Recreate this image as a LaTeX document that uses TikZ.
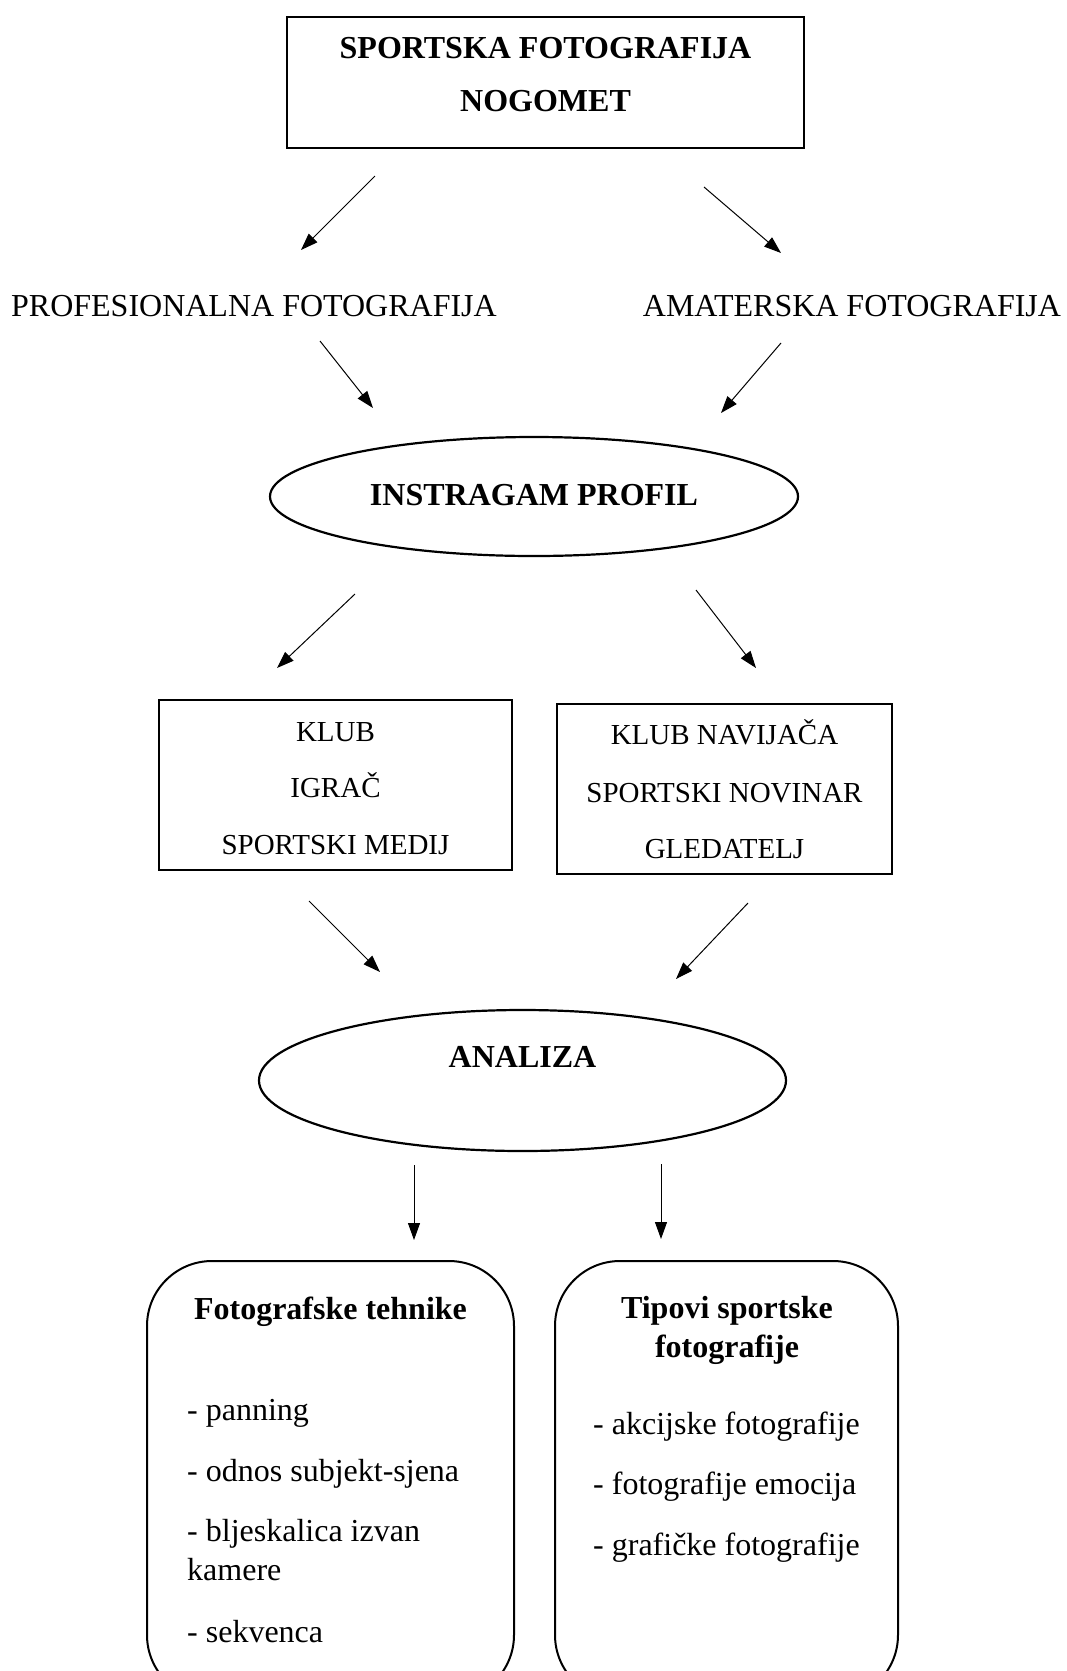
\documentclass[tikz,border=0pt]{standalone}
\usepackage{fontspec}
\setmainfont{Liberation Serif}
\usetikzlibrary{shapes.geometric,arrows.meta}
\begin{document}
\begin{tikzpicture}[x=1pt,y=-1pt,
  lbl/.style={anchor=base, inner sep=0, font=\fontsize{32}{38}\selectfont},
  blbl/.style={anchor=base, inner sep=0, font=\fontsize{32}{38}\selectfont\bfseries},
  slbl/.style={anchor=base, inner sep=0, font=\fontsize{29}{35}\selectfont},
  itm/.style={anchor=base west, inner sep=0, font=\fontsize{32}{38}\selectfont},
  box/.style={draw, line width=2pt, inner sep=0, rectangle},
  oval/.style={draw, ellipse, line width=2.2pt, inner sep=0},
  arr/.style={line width=1pt, -{Triangle[length=17pt,width=12pt]}},
  rbox/.style={draw, line width=2pt, rounded corners=65pt}]
\path[use as bounding box, fill=white] (0,0) rectangle (1067,1671);

% top box
\node[box, minimum width=517pt, minimum height=131pt] (top) at (545.5,82.5) {};
\node[blbl] (t1) at (545.5,58) {SPORTSKA FOTOGRAFIJA};
\node[blbl] (t2) at (545.5,111) {NOGOMET};

% second level labels
\node[lbl] (prof) at (254,316) {PROFESIONALNA FOTOGRAFIJA};
\node[lbl] (amat) at (852,316) {AMATERSKA FOTOGRAFIJA};

% instagram ellipse
\node[oval, minimum width=528pt, minimum height=119pt] (insta) at (534,496.5) {};
\node[blbl] (instat) at (534,505) {INSTRAGAM PROFIL};

% middle boxes
\node[box, minimum width=353pt, minimum height=170pt] (klub) at (335.5,785) {};
\node[slbl] (k1) at (335.5,741) {KLUB};
\node[slbl] (k2) at (335.5,797) {IGRAČ};
\node[slbl] (k3) at (335.5,854) {SPORTSKI MEDIJ};

\node[box, minimum width=335pt, minimum height=170pt] (nav) at (724.5,789) {};
\node[slbl] (n1) at (724.5,744) {KLUB NAVIJAČA};
\node[slbl] (n2) at (724.5,802) {SPORTSKI NOVINAR};
\node[slbl] (n3) at (724.5,858) {GLEDATELJ};

% analiza ellipse
\node[oval, minimum width=527pt, minimum height=141pt] (anal) at (522.5,1080.5) {};
\node[blbl] (analt) at (522.5,1067) {ANALIZA};

% bottom rounded boxes
\begin{scope}
\clip (0,0) rectangle (1067,1671);
\draw[rbox] (147,1700) rectangle (514,1261);
\draw[rbox] (555,1700) rectangle (898,1261);
\end{scope}
\coordinate (lbox) at (330.5,1261);
\coordinate (rbox) at (726.5,1261);

\node[blbl] (fh) at (330.5,1319) {Fotografske tehnike};
\node[itm] (f1) at (187,1420) {- panning};
\node[itm] (f2) at (187,1481) {- odnos subjekt-sjena};
\node[itm] (f3) at (187,1541) {- bljeskalica izvan};
\node[itm] (f4) at (187,1580) {kamere};
\node[itm] (f5) at (187,1642) {- sekvenca};

\node[blbl] (th1) at (727,1318) {Tipovi sportske};
\node[blbl] (th2) at (727,1357) {fotografije};
\node[itm] (g1) at (593,1434) {- akcijske fotografije};
\node[itm] (g2) at (593,1494) {- fotografije emocija};
\node[itm] (g3) at (593,1555) {- grafičke fotografije};

% arrow end points
\coordinate (a1s) at (375,176);  \coordinate (a1e) at (301,250);
\coordinate (a2s) at (704,187);  \coordinate (a2e) at (781,253);
\coordinate (a3s) at (320,341);  \coordinate (a3e) at (373,408);
\coordinate (a4s) at (781,343);  \coordinate (a4e) at (721,413);
\coordinate (a5s) at (355,594);  \coordinate (a5e) at (277,668);
\coordinate (a6s) at (696,590);  \coordinate (a6e) at (756,668);
\coordinate (a7s) at (309,901);  \coordinate (a7e) at (380,972);
\coordinate (a8s) at (748,903);  \coordinate (a8e) at (676,979);
\coordinate (a9s) at (414,1165); \coordinate (a9e) at (414,1240);
\coordinate (a10s) at (661,1164); \coordinate (a10e) at (661,1239);

\draw[arr] (a1s) -- (a1e);
\draw[arr] (a2s) -- (a2e);
\draw[arr] (a3s) -- (a3e);
\draw[arr] (a4s) -- (a4e);
\draw[arr] (a5s) -- (a5e);
\draw[arr] (a6s) -- (a6e);
\draw[arr] (a7s) -- (a7e);
\draw[arr] (a8s) -- (a8e);
\draw[arr] (a9s) -- (a9e);
\draw[arr] (a10s) -- (a10e);
\end{tikzpicture}
\end{document}
